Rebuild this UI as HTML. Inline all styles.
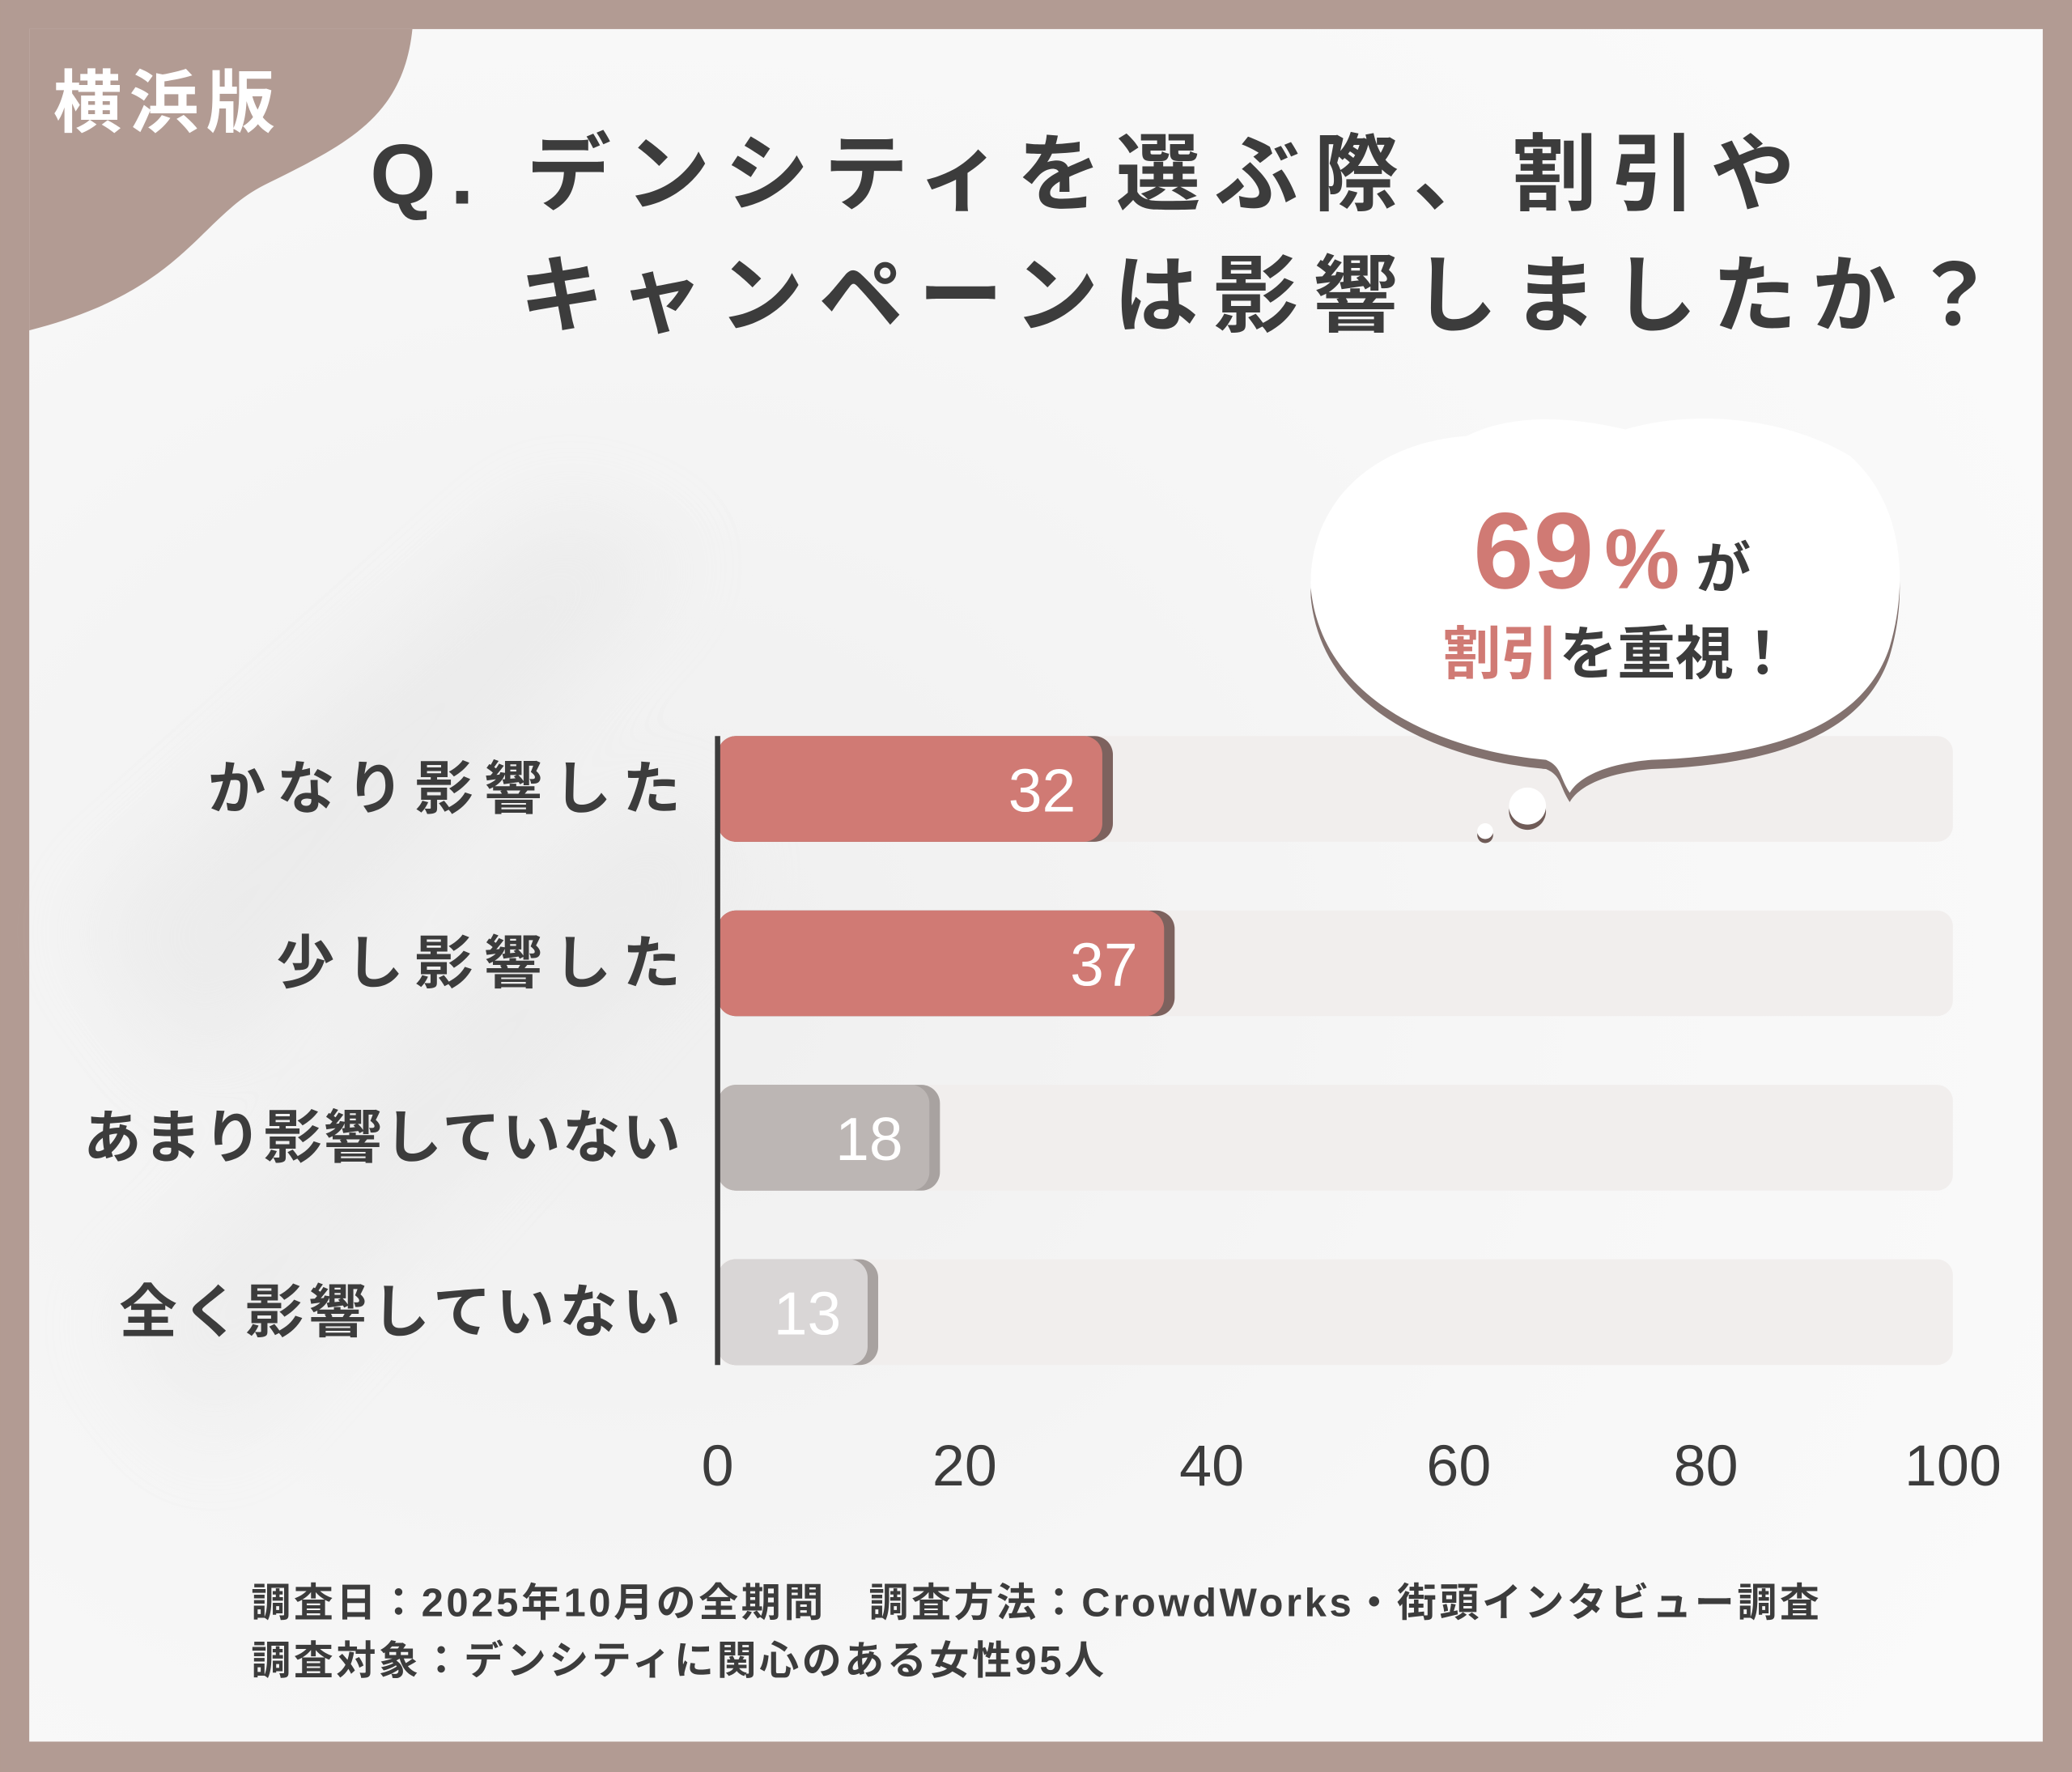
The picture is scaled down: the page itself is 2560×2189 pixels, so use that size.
<!DOCTYPE html>
<html><head><meta charset="utf-8"><style>
html,body{margin:0;padding:0;background:#b29b93}
svg{display:block}
text{font-family:"Liberation Sans","Noto Sans CJK JP",sans-serif}
</style></head><body>
<svg width="2560" height="2189" viewBox="0 0 1568 1341" xmlns="http://www.w3.org/2000/svg">
<defs>
<radialGradient id="bg" cx="0.3" cy="0.55" r="0.8">
<stop offset="0" stop-color="#efefef"/><stop offset="0.6" stop-color="#f7f7f7"/><stop offset="1" stop-color="#fafafa"/>
</radialGradient>
<filter id="blur"><feGaussianBlur stdDeviation="35"/></filter>
</defs>
<rect x="0" y="0" width="1568" height="1341" fill="#b29b93"/>
<rect x="22" y="22" width="1524" height="1296" fill="url(#bg)"/>
<g filter="url(#blur)" opacity="0.3">
<path d="M60 700 L420 380 L520 420 L150 820 Z" fill="#dcdcdc"/>
<path d="M80 1000 L500 600 L560 660 L160 1100 Z" fill="#e0e0e0"/>
</g>
<path d="M22 22 H312 C305 90 260 110 200 140 C150 165 140 220 22 250 Z" fill="#b29b93"/>
<text x="40" y="96" font-size="52" font-weight="bold" fill="#ffffff" letter-spacing="6">横浜版</text>
<g fill="#3c3c3c" font-weight="bold" font-size="64">
<text x="280" y="154" letter-spacing="11">Q. デンシティを選ぶ際、割引や</text>
<text x="393" y="246" letter-spacing="11.5">キャンペーンは影響しましたか？</text>
</g>
<g id="plot"></g>
<g>
<path d="M992 445 C990 380 1040 335 1110 330 C1150 310 1200 318 1230 325 C1280 310 1350 315 1400 345 C1440 380 1445 440 1430 490 C1410 550 1340 572 1250 575 C1215 578 1195 588 1188 600 C1180 588 1182 580 1170 575 C1090 568 1000 530 992 445 Z" fill="#6f5b57" transform="translate(0,7)" opacity="0.85"/>
<path d="M992 445 C990 380 1040 335 1110 330 C1150 310 1200 318 1230 325 C1280 310 1350 315 1400 345 C1440 380 1445 440 1430 490 C1410 550 1340 572 1250 575 C1215 578 1195 588 1188 600 C1180 588 1182 580 1170 575 C1090 568 1000 530 992 445 Z" fill="#ffffff"/>
<circle cx="1156" cy="614" r="14" fill="#6f5b57"/><circle cx="1156" cy="610" r="14" fill="#ffffff"/>
<circle cx="1124" cy="632" r="6" fill="#6f5b57"/><circle cx="1124" cy="629" r="6" fill="#ffffff"/>
<text x="1115" y="445" font-size="82" font-weight="bold" fill="#d07a74">69<tspan font-size="64" dx="8">%</tspan><tspan font-size="42" fill="#3c3c3c" dx="12">が</tspan></text>
<text x="1092" y="510" font-size="44" font-weight="bold" fill="#d07a74">割引<tspan fill="#3c3c3c">を重視！</tspan></text>
</g>
<g font-size="30" font-weight="bold" fill="#3c3c3c" letter-spacing="2.2">
<text x="190" y="1223">調査日：2025年10月の全期間　調査方法：CrowdWorks・街頭インタビュー調査</text>
<text x="190" y="1267">調査対象：デンシティに関心のある女性95人</text>
</g>
</svg>
<script>
const categories = ["かなり影響した","少し影響した","あまり影響していない","全く影響していない"];
const values = [32,37,18,13];
const tickValues = [0,20,40,60,80,100];
const NS="http://www.w3.org/2000/svg";
const plot=document.getElementById('plot');
const x0=543,x1=1478,rowTop=557,rowStep=132,barH=80;
const labelWidthStyle=[358,306,452,425];
const xs=v=>x0+(v/100)*(x1-x0);
const fills=["#d07a74","#d07a74","#bcb6b4","#d9d6d6"];
function mk(tag,attrs){const e=document.createElementNS(NS,tag);for(const k in attrs)e.setAttribute(k,attrs[k]);plot.appendChild(e);return e;}
categories.forEach((c,i)=>{
 const y=rowTop+i*rowStep;
 const tr=mk('rect',{x:x0,y:y,width:x1-x0,height:barH,rx:12,fill:'#f1eeed'});
 
 
 const w=xs(values[i])-x0;
 const sh=mk('rect',{x:x0,y:y,width:w,height:barH,rx:14,fill:i<2?'#7d625e':'#a8a2a0'});
 
 
 const b=mk('rect',{x:x0,y:y,width:w-8,height:barH,rx:14,fill:fills[i]});
 
 
 const vt=mk('text',{x:xs(values[i])-28,y:y+57,'text-anchor':'end','font-size':46,fill:'#ffffff'});
 vt.textContent=values[i];
 
 
 const lt=mk('text',{x:515-labelWidthStyle[i],y:y+55,'font-size':44,'font-weight':'bold',fill:'#3c3c3c',textLength:labelWidthStyle[i],lengthAdjust:'spacing'});
 lt.textContent=c;
 
 
});
const ax=mk('line',{x1:x0,y1:rowTop,x2:x0,y2:rowTop+3*rowStep+barH,stroke:'#3c3c3c','stroke-width':4});


tickValues.forEach(t=>{
 const tt=mk('text',{x:xs(t),y:1124,'text-anchor':'middle','font-size':44,fill:'#3c3c3c'});
 tt.textContent=t;
 
 
});
</script>
</body></html>
